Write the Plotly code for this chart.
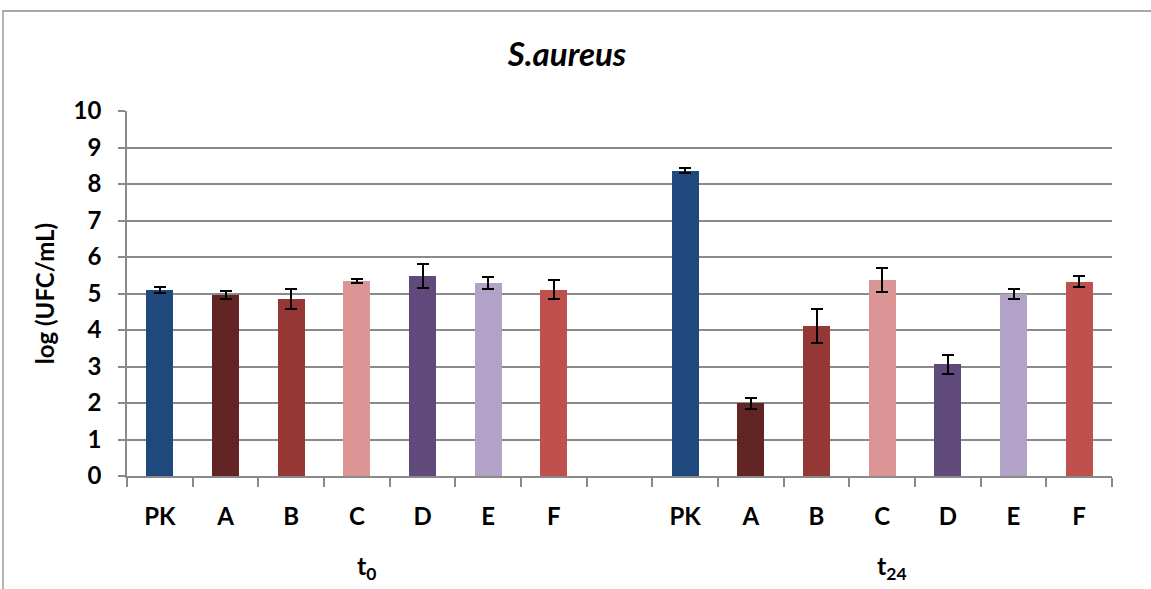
import plotly.graph_objects as go

# ---- data ----
categories = ["PK", "A", "B", "C", "D", "E", "F"]
groups = ["t<sub>0</sub>", "t<sub>24</sub>"]
t0_values = [5.10, 4.96, 4.84, 5.35, 5.47, 5.29, 5.10]
t0_errors = [0.08, 0.10, 0.27, 0.05, 0.33, 0.16, 0.26]
t24_values = [8.37, 1.99, 4.11, 5.38, 3.06, 4.99, 5.32]
t24_errors = [0.07, 0.15, 0.46, 0.33, 0.26, 0.14, 0.15]
bar_colors = ["#1F497D", "#632523", "#953735", "#DB9594", "#604A7B", "#B2A2C7", "#C0504D"]
y_ticks = list(range(0, 11))

# positions: group 1 at 0..6, empty slot at 7, group 2 at 8..14
n = len(categories)
x_pos = list(range(n)) + [n + 1 + i for i in range(n)]
values = t0_values + t24_values
errors = t0_errors + t24_errors
colors = bar_colors + bar_colors
labels = categories + categories

FONT = "Lato"
GRID = "#8a8a8a"

fig = go.Figure()
fig.add_trace(go.Bar(
    x=x_pos, y=values,
    marker=dict(color=colors, line=dict(width=0)),
    width=0.41,
    error_y=dict(type="data", array=errors, visible=True,
                 color="black", thickness=2, width=6),
    showlegend=False,
))

total = 2 * n + 1
fig.update_layout(
    width=1151, height=589,
    margin=dict(l=127, r=39, t=111, b=113),
    paper_bgcolor="white", plot_bgcolor="white",
    font=dict(family=FONT, color="black", size=22, weight=700),
    title=dict(text="<i>S.aureus</i>", x=0.4926, xanchor="center", xref="container",
               y=0.908, yanchor="middle", yref="container",
               font=dict(family=FONT, size=33, weight=700)),
    xaxis=dict(
        range=[-0.5, total - 0.5],
        tickmode="array", tickvals=x_pos, ticktext=labels,
        ticks="", showgrid=False, zeroline=False,
        showline=True, linecolor=GRID, linewidth=1.5,
        ticklabelstandoff=18,
        tickfont=dict(family=FONT, size=24, weight=700),
        minor=dict(tick0=-0.5, dtick=1, ticks="outside", ticklen=9,
                   tickcolor=GRID, tickwidth=1.5, showgrid=False),
    ),
    yaxis=dict(
        range=[0, 10], tickmode="array", tickvals=y_ticks,
        ticks="outside", ticklen=7, tickcolor=GRID, tickwidth=1.5,
        showgrid=True, gridcolor=GRID, gridwidth=1.5,
        zeroline=False, showline=True, linecolor=GRID, linewidth=1.5,
        ticklabelstandoff=12,
        tickfont=dict(family=FONT, size=24, weight=700),
        title=dict(text="log (UFC/mL)", standoff=12,
                   font=dict(family=FONT, size=24, weight=700)),
    ),
    bargap=0,
)

# group labels
group_centers = [(n - 1) / 2, n + 1 + (n - 1) / 2]
for g, c in zip(groups, group_centers):
    fig.add_annotation(x=c + 0.15, y=-0.249, xref="x", yref="paper",
                       text=g, showarrow=False, yanchor="middle",
                       font=dict(family=FONT, size=25, weight=700))

# outer chart frame
fig.add_shape(type="rect", xref="paper", yref="paper",
              x0=-0.1259, x1=1.08, y0=-0.5, y1=1.274,
              line=dict(color="#8c8c8c", width=1.3), fillcolor="rgba(0,0,0,0)",
              layer="below")

fig.write_html("out.html", config={"displayModeBar": False},
               post_script="document.body.style.margin='0';")
